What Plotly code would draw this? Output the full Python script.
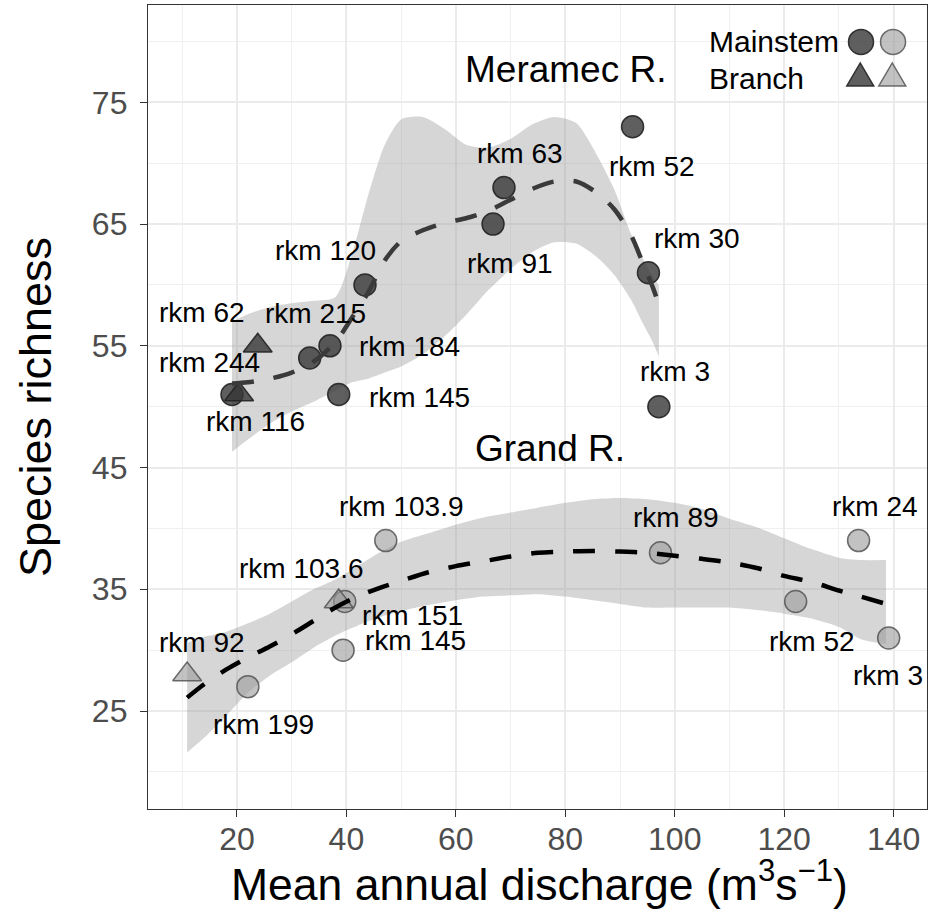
import plotly.graph_objects as go

# ---------------- data ----------------
meramec_main_x = [92.3, 68.8, 66.8, 95.2, 43.4, 37.0, 33.3, 38.6, 19.1, 97.1]
meramec_main_y = [73, 68, 65, 61, 60, 55, 54, 51, 51, 50]
meramec_main_lab = ["rkm 52", "rkm 63", "rkm 91", "rkm 30", "rkm 120", "rkm 184",
                    "rkm 215", "rkm 145", "rkm 116", "rkm 3"]
meramec_branch_x = [23.8, 20.4]
meramec_branch_y = [55, 51]
meramec_branch_lab = ["rkm 62", "rkm 244"]

grand_main_x = [47.2, 39.7, 39.4, 22.0, 97.4, 133.6, 122.1, 139.1]
grand_main_y = [39, 34, 30, 27, 38, 39, 34, 31]
grand_main_lab = ["rkm 103.9", "rkm 151", "rkm 145", "rkm 199", "rkm 89",
                  "rkm 24", "rkm 52", "rkm 3"]
grand_branch_x = [10.9, 38.6]
grand_branch_y = [28, 34]
grand_branch_lab = ["rkm 92", "rkm 103.6"]

# smoothed fits
meramec_fit_x = [19.1, 22, 26, 30, 34, 38, 41, 44, 47, 50, 54, 58, 62, 66, 70, 74, 78, 82, 86, 89, 92, 94, 96, 97.1]
meramec_fit_y = [51.9, 52.0, 52.3, 52.8, 53.7, 55.3, 57.3, 59.4, 62.0, 63.6, 64.5, 65.1, 65.5, 66.1, 67.0, 67.9, 68.5, 68.5, 67.5, 66.2, 64.1, 62.0, 59.8, 58.4]
meramec_upper = [57.0, 57.6, 58.2, 58.5, 58.7, 59.0, 62.5, 67.4, 71.5, 73.6, 73.8, 72.8, 71.5, 71.3, 72.0, 73.2, 73.8, 73.3, 70.5, 67.8, 64.2, 62.3, 60.7, 60.0]
meramec_lower = [46.3, 47.3, 48.6, 49.6, 50.4, 51.3, 52.0, 52.3, 52.8, 53.3, 54.3, 55.8, 57.6, 59.6, 61.3, 62.7, 63.5, 63.4, 62.2, 60.8, 58.8, 57.0, 55.3, 54.1]

grand_fit_x = [10.9, 14, 18, 22, 26, 30, 34, 38, 42, 46, 50, 55, 60, 65, 70, 75, 80, 85, 90, 95, 100, 105, 110, 115, 120, 125, 130, 134, 138.6]
grand_fit_y = [26.1, 27.2, 28.4, 29.4, 30.3, 31.3, 32.4, 33.5, 34.4, 35.1, 35.7, 36.4, 36.9, 37.3, 37.7, 38.0, 38.1, 38.15, 38.1, 38.0, 37.75, 37.5, 37.2, 36.75, 36.1, 35.6, 34.9, 34.4, 33.8]
grand_upper = [30.6, 31.1, 31.5, 32.2, 33.0, 34.0, 35.0, 35.8, 36.9, 38.0, 38.9, 39.6, 40.3, 40.9, 41.3, 41.7, 42.1, 42.4, 42.5, 42.4, 42.1, 41.6, 40.8, 40.1, 39.2, 38.3, 37.6, 37.4, 37.4]
grand_lower = [21.6, 22.8, 24.6, 26.5, 27.9, 29.0, 30.2, 31.2, 32.0, 32.7, 33.2, 33.7, 34.1, 34.4, 34.5, 34.6, 34.4, 34.1, 33.8, 33.5, 33.5, 33.5, 33.5, 33.3, 33.0, 32.6, 31.9, 30.9, 30.5]

x_ticks = [20, 40, 60, 80, 100, 120, 140]
y_ticks = [25, 35, 45, 55, 65, 75]

# label pixel offsets (dx right, dy up)
meramec_main_off = [(19, -40), (16, 34), (17, -39), (49, 34), (-39, 34), (80, -1),
                    (6, 45), (81, -3), (23, -27), (16, 35)]
meramec_branch_off = [(-56, 33), (-30, 32)]
grand_main_off = [(16, 34), (68, -14), (72, 10), (16, -38), (16, 35), (16, 34),
                  (16, -40), (-1, -38)]
grand_branch_off = [(15, 32), (-37, 33)]

FONT = "Arial, Liberation Sans, sans-serif"
DARK_FILL = "rgba(55,55,55,0.8)"
DARK_EDGE = "rgba(35,35,35,0.9)"
LIGHT_FILL = "rgba(153,153,153,0.6)"
LIGHT_EDGE = "rgba(85,85,85,0.85)"
RIBBON = "rgba(153,153,153,0.4)"
SPL = dict(width=0, shape="spline", smoothing=0.7)

fig = go.Figure()

# ribbons (lower edge, then upper edge filled to it)
for fx, up, lo in [(meramec_fit_x, meramec_upper, meramec_lower),
                   (grand_fit_x, grand_upper, grand_lower)]:
    fig.add_trace(go.Scatter(x=fx, y=lo, mode="lines", line=SPL,
                             hoverinfo="skip", showlegend=False))
    fig.add_trace(go.Scatter(x=fx, y=up, mode="lines", line=SPL, fill="tonexty",
                             fillcolor=RIBBON, hoverinfo="skip", showlegend=False))

# points
def pts(x, y, symbol, size, fill, edge):
    fig.add_trace(go.Scatter(x=x, y=y, mode="markers", showlegend=False,
                             marker=dict(symbol=symbol, size=size, color=fill,
                                         line=dict(color=edge, width=1.5)),
                             cliponaxis=False))

pts(meramec_main_x, meramec_main_y, "circle", 22, DARK_FILL, DARK_EDGE)
pts(meramec_branch_x, meramec_branch_y, "triangle-up", 25, DARK_FILL, DARK_EDGE)
pts(grand_main_x, grand_main_y, "circle", 22, LIGHT_FILL, LIGHT_EDGE)
pts(grand_branch_x, grand_branch_y, "triangle-up", 25, LIGHT_FILL, LIGHT_EDGE)

# fitted lines
fig.add_trace(go.Scatter(x=meramec_fit_x, y=meramec_fit_y, mode="lines", showlegend=False,
                         line=dict(color="#3a3a3a", width=4.5, dash="22px,20px",
                                   shape="spline", smoothing=0.8)))
fig.add_trace(go.Scatter(x=grand_fit_x, y=grand_fit_y, mode="lines", showlegend=False,
                         line=dict(color="#000000", width=4.5, dash="22px,20px",
                                   shape="spline", smoothing=0.8)))

ann = []
for xs, ys, labs, offs in [(meramec_main_x, meramec_main_y, meramec_main_lab, meramec_main_off),
                           (meramec_branch_x, meramec_branch_y, meramec_branch_lab, meramec_branch_off),
                           (grand_main_x, grand_main_y, grand_main_lab, grand_main_off),
                           (grand_branch_x, grand_branch_y, grand_branch_lab, grand_branch_off)]:
    for x, y, t, (dx, dy) in zip(xs, ys, labs, offs):
        ann.append(dict(x=x, y=y, text=t, showarrow=False, xshift=dx, yshift=dy,
                        xanchor="center", yanchor="middle",
                        font=dict(family=FONT, size=28, color="black")))

ann.append(dict(x=80, y=77.7, text="Meramec R.", showarrow=False,
                font=dict(family=FONT, size=37, color="black")))
ann.append(dict(x=77.2, y=46.6, text="Grand R.", showarrow=False,
                font=dict(family=FONT, size=37, color="black")))

# axis titles
ann.append(dict(xref="paper", yref="paper", x=0.502, y=-0.089, xanchor="center", yanchor="middle",
                text="Mean annual discharge (m<sup>3</sup>s<sup>\u22121</sup>)", showarrow=False,
                font=dict(family=FONT, size=44.5, color="black")))
ann.append(dict(xref="paper", yref="paper", x=-0.145, y=0.5, xanchor="center", yanchor="middle",
                text="Species richness", textangle=-90, showarrow=False,
                font=dict(family=FONT, size=45, color="black")))

# legend text
ann.append(dict(xref="paper", yref="paper", x=0.717, y=0.954, xanchor="left", yanchor="middle",
                text="Mainstem", showarrow=False, font=dict(family=FONT, size=30, color="black")))
ann.append(dict(xref="paper", yref="paper", x=0.717, y=0.909, xanchor="left", yanchor="middle",
                text="Branch", showarrow=False, font=dict(family=FONT, size=30, color="black")))

shapes = []
for xa, fill, edge in [(0.9153, DARK_FILL, DARK_EDGE), (0.9564, LIGHT_FILL, LIGHT_EDGE)]:
    shapes.append(dict(type="circle", xref="paper", yref="paper", xsizemode="pixel", ysizemode="pixel",
                       xanchor=xa, yanchor=0.954, x0=-12.5, x1=12.5, y0=-12.5, y1=12.5,
                       fillcolor=fill, line=dict(color=edge, width=1.5)))
    shapes.append(dict(type="path", xref="paper", yref="paper", xsizemode="pixel", ysizemode="pixel",
                       xanchor=xa - 0.001, yanchor=0.9117, path="M-13.5,-10 L13.5,-10 L0,13 Z",
                       fillcolor=fill, line=dict(color=edge, width=1.5)))

fig.update_layout(
    width=928, height=913,
    margin=dict(l=148, r=1, t=5, b=104),
    paper_bgcolor="white", plot_bgcolor="white",
    annotations=ann, shapes=shapes, showlegend=False,
    font=dict(family=FONT),
)
fig.update_xaxes(range=[3.75, 146.1], tickvals=x_ticks, ticks="outside", ticklen=7,
                 tickwidth=1.3, tickcolor="#333333",
                 tickfont=dict(family=FONT, size=32, color="#4D4D4D"),
                 showgrid=True, gridcolor="#EBEBEB", gridwidth=1.6,
                 minor=dict(tick0=0, dtick=10, showgrid=True, gridcolor="#F0F0F0", gridwidth=0.9),
                 showline=True, mirror=True, linecolor="#333333", linewidth=1.3,
                 zeroline=False, ticklabelstandoff=-6)
fig.update_yaxes(range=[16.95, 83.0], tickvals=y_ticks, ticks="outside", ticklen=7,
                 tickwidth=1.3, tickcolor="#333333",
                 tickfont=dict(family=FONT, size=32, color="#4D4D4D"),
                 showgrid=True, gridcolor="#EBEBEB", gridwidth=1.6,
                 minor=dict(tick0=0, dtick=5, showgrid=True, gridcolor="#F0F0F0", gridwidth=0.9),
                 showline=True, mirror=True, linecolor="#333333", linewidth=1.3,
                 zeroline=False, ticklabelstandoff=6)

fig.write_html("out.html")
